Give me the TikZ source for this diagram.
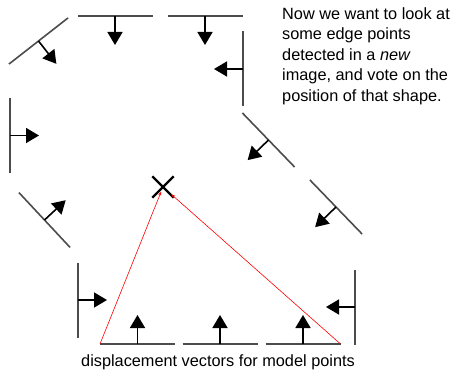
\documentclass[tikz,border=0pt]{standalone}
\usepackage{fontspec}
\setmainfont{Liberation Sans}
\usetikzlibrary{calc,arrows.meta,shapes.misc}

\begin{document}
\begin{tikzpicture}[x=1pt, y=1pt, every node/.style={font=\fontsize{16.3}{20.5}\selectfont},
  edge/.style={draw=black!70, line width=1.6pt},
  vec/.style={-{Triangle[length=13pt, width=15pt]}, line width=1.6pt},
  vote/.style={red, line width=0.6pt, -{Stealth[length=4pt, width=3pt]}}]
  \useasboundingbox (0,0) rectangle (455,370);
  % model edge points: centre / direction of vector / name
  \foreach \cx/\cy/\ang/\nm in {38.5/329/-52/p1, 115/354/-90/p2, 205/354/-90/p3, 243/301/180/p4,
    10/234.5/0/p5, 44.5/150/43/p6, 268.5/230/224/p7, 336/163/224/p8, 78/70/0/p9,
    137.5/26/90/p10, 220/26/90/p11, 303/26/90/p12, 355/63/180/p13} {
    \coordinate (\nm) at (\cx,\cy);
    \coordinate (\nm a) at ($(\nm)+(\ang+90:37.5)$);
    \coordinate (\nm b) at ($(\nm)+(\ang-90:37.5)$);
    \draw[edge] (\nm a) -- (\nm b);
    \draw[vec] (\nm) -- ++(\ang:29);
  }
  \node[cross out, draw, line width=2.4pt, minimum size=19pt, inner sep=0pt] (cross) at (163,183) {};
  \draw[vote, shorten >=5pt] (p10a) -- (cross.center);
  \draw[vote, shorten >=11pt] (p12b) -- (cross.center);
  \node[anchor=north west, align=left, inner sep=0pt] (note) at (282,363)
    {Now we want to look at\\some edge points\\detected in a \textit{new}\\image, and vote on the\\position of that shape.};
  \node[anchor=base, inner sep=0pt] (caption) at (218,4) {displacement vectors for model points};
\end{tikzpicture}
\end{document}
